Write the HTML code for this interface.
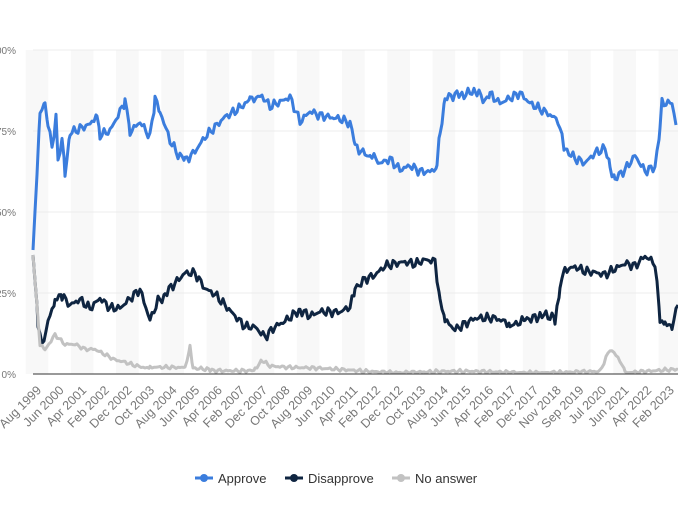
<!DOCTYPE html>
<html><head><meta charset="utf-8"><style>
body{margin:0;background:#fff;width:678px;height:509px;overflow:hidden;font-family:"Liberation Sans",sans-serif}
</style></head><body>
<svg id="s" width="678" height="509" xmlns="http://www.w3.org/2000/svg" font-family="Liberation Sans, sans-serif">
<g id="bands"></g>
<g stroke="#ececec" stroke-width="1">
<line x1="33" x2="678" y1="50" y2="50"/><line x1="33" x2="678" y1="131" y2="131"/>
<line x1="33" x2="678" y1="212" y2="212"/><line x1="33" x2="678" y1="293" y2="293"/>
</g>
<g font-size="10" fill="#777" text-anchor="end">
<text x="16" y="54">100%</text><text x="16" y="135">75%</text><text x="16" y="216">50%</text><text x="16" y="297">25%</text><text x="16" y="378">0%</text>
</g>
<g id="lines" fill="none" stroke-width="3" stroke-linejoin="round"></g>
<line x1="33" x2="678" y1="374" y2="374" stroke="#333" stroke-width="1"/>
<g id="xl" font-size="12.5" fill="#777" text-anchor="end"></g>
<g font-size="13" fill="#333">
<line x1="195" x2="213" y1="478" y2="478" stroke="#3b7ddd" stroke-width="3"/><circle cx="204" cy="478" r="4" fill="#3b7ddd"/>
<text x="218" y="483">Approve</text>
<line x1="285" x2="303" y1="478" y2="478" stroke="#0f2541" stroke-width="3"/><circle cx="294" cy="478" r="4" fill="#0f2541"/>
<text x="308" y="483">Disapprove</text>
<line x1="392" x2="410" y1="478" y2="478" stroke="#c2c2c2" stroke-width="3"/><circle cx="401" cy="478" r="4" fill="#c2c2c2"/>
<text x="415" y="483">No answer</text>
</g>
</svg>
<script>
var NS="http://www.w3.org/2000/svg";
var labels=["Aug 1999","Jun 2000","Apr 2001","Feb 2002","Dec 2002","Oct 2003","Aug 2004","Jun 2005","Apr 2006","Feb 2007","Dec 2007","Oct 2008","Aug 2009","Jun 2010","Apr 2011","Feb 2012","Dec 2012","Oct 2013","Aug 2014","Jun 2015","Apr 2016","Feb 2017","Dec 2017","Nov 2018","Sep 2019","Jul 2020","Jun 2021","Apr 2022","Feb 2023"];
var bands=document.getElementById("bands"),xl=document.getElementById("xl");
labels.forEach(function(l,i){var x=37+i*22.6;
 if(i%2==0){var r=document.createElementNS(NS,"rect");r.setAttribute("x",x-11.3);r.setAttribute("y",50);r.setAttribute("width",22.6);r.setAttribute("height",324);r.setAttribute("fill","#f8f8f8");bands.appendChild(r);}
 var t=document.createElementNS(NS,"text");t.setAttribute("transform","translate("+(x+5)+",391) rotate(-45)");t.textContent=l;xl.appendChild(t);});
function build(k,col,amp,seed){
 var pts=[];for(var i=0;i<k.length;i+=2)pts.push([k[i],k[i+1]]);
 var out=[];
 for(var j=0;j<pts.length-1;j++){var a=pts[j],b=pts[j+1];
  for(var x=a[0];x<b[0];x+=2){var t=(x-a[0])/(b[0]-a[0]);var y=a[1]+(b[1]-a[1])*t;
   var n=Math.sin(x*1.7+seed)*Math.sin(x*0.63+seed*2)*amp+Math.sin(x*3.1+seed)*amp*0.4;
   if(x>36)y+=n;out.push(x.toFixed(1)+","+Math.min(373,y).toFixed(1));}}
 out.push(pts[pts.length-1].join(","));
 var p=document.createElementNS(NS,"polyline");p.setAttribute("points",out.join(" "));p.setAttribute("stroke",col);
 document.getElementById("lines").appendChild(p);}
build([33,250,40,115,45,105,48,125,52,150,56,118,58,165,62,140,65,170,70,135,80,130,90,125,97,115,100,135,110,130,120,110,125,100,130,130,140,120,150,135,155,100,160,110,170,140,178,155,185,160,195,150,205,135,215,125,225,115,235,110,250,100,262,95,270,105,280,100,290,95,300,120,310,110,320,115,340,120,350,125,355,145,370,155,380,165,390,160,400,170,410,165,420,170,430,170,437,165,440,130,445,100,460,95,475,90,485,100,490,95,500,105,510,100,520,95,530,105,540,110,550,115,558,120,565,150,575,160,585,165,595,155,605,150,610,165,615,180,625,170,635,155,645,170,655,165,660,130,662,105,672,105,676,125],"#3b7ddd",5,1);
build([33,255,38,320,42,345,48,320,55,300,62,295,70,305,80,300,90,310,100,300,110,310,120,310,130,300,140,290,150,320,158,300,165,295,175,285,185,275,195,275,205,290,215,295,225,305,235,315,245,325,255,325,265,335,275,325,285,320,300,310,310,315,320,310,340,310,350,305,355,290,365,280,375,275,385,265,395,262,405,260,415,262,425,258,435,260,440,300,445,320,455,330,465,325,475,320,485,320,495,320,510,325,525,320,540,315,555,320,560,290,565,268,575,265,585,270,595,272,605,275,615,270,625,265,635,268,645,258,655,265,660,320,665,325,672,325,678,305],"#0f2541",5,3);
build([33,255,40,345,45,350,55,335,65,345,75,345,85,350,95,350,105,355,115,360,125,362,135,365,150,368,170,368,185,368,190,347,193,368,210,370,240,370,255,370,262,360,270,366,290,368,350,370,400,372,600,372,610,350,618,358,625,372,678,370],"#c2c2c2",2,5);
</script>
</body></html>
